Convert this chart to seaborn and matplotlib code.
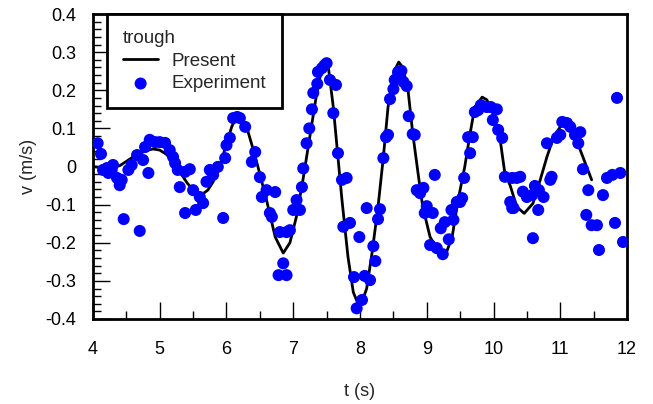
"""
Trough velocity: present model vs experiment
"""
import numpy as np
import pandas as pd
import seaborn as sns
import matplotlib.pyplot as plt
from matplotlib.ticker import MultipleLocator

# present (model) curve
present_t = [4.0, 4.2, 4.4, 4.6, 4.8, 4.9, 5.0, 5.1, 5.2, 5.3, 5.41, 5.5, 5.62,
             5.72, 5.8, 5.9, 6.0, 6.08, 6.15, 6.22, 6.3, 6.4, 6.47, 6.6, 6.73,
             6.85, 6.95, 7.05, 7.15, 7.25, 7.35, 7.42, 7.48, 7.53, 7.6, 7.66,
             7.73, 7.82, 7.9, 7.97, 8.04, 8.1, 8.18, 8.27, 8.35, 8.42, 8.52,
             8.58, 8.64, 8.72, 8.79, 8.87, 8.94, 9.05, 9.17, 9.27, 9.38, 9.47,
             9.57, 9.65, 9.72, 9.83, 9.9, 9.98, 10.1, 10.17, 10.25, 10.35,
             10.46, 10.59, 10.7, 10.8, 10.9, 11.04, 11.1, 11.18, 11.3, 11.47]
present_v = [0.0, -0.004, 0.002, 0.025, 0.042, 0.046, 0.043, 0.032, 0.012,
             -0.014, -0.043, -0.062, -0.075, -0.062, -0.04, 0.0, 0.06, 0.105,
             0.13, 0.13, 0.105, 0.045, 0.0, -0.088, -0.185, -0.227, -0.2,
             -0.13, -0.03, 0.08, 0.19, 0.25, 0.272, 0.255, 0.156, 0.043,
             -0.088, -0.237, -0.33, -0.36, -0.35, -0.32, -0.227, -0.106, 0.025,
             0.156, 0.253, 0.274, 0.26, 0.2, 0.087, -0.018, -0.106, -0.185,
             -0.22, -0.237, -0.185, -0.088, 0.0, 0.087, 0.156, 0.182, 0.175,
             0.145, 0.07, -0.018, -0.05, -0.106, -0.123, -0.097, -0.035, 0.025,
             0.077, 0.115, 0.115, 0.104, 0.043, -0.035]

# experiment points
exp_t = [4.07, 4.12, 4.15, 4.21, 4.23, 4.28, 4.3, 4.36, 4.4, 4.43, 4.46, 4.53,
         4.58, 4.66, 4.7, 4.75, 4.78, 4.83, 4.85, 4.93, 5.0, 5.08, 5.15, 5.2,
         5.23, 5.27, 5.3, 5.38, 5.45, 5.38, 5.5, 5.54, 5.6, 5.65, 5.7, 5.75,
         5.8, 5.87, 5.95, 5.98, 6.0, 6.05, 6.1, 6.16, 6.2, 6.28, 6.38, 6.43,
         6.5, 6.53, 6.6, 6.73, 6.65, 6.68, 6.8, 6.9, 6.85, 6.78, 6.9, 6.95,
         7.0, 7.05, 7.1, 7.13, 7.15, 7.2, 7.24, 7.28, 7.3, 7.36, 7.37, 7.43,
         7.47, 7.5, 7.55, 7.64, 7.6, 7.67, 7.73, 7.8, 7.75, 7.85, 7.99, 8.1,
         7.91, 8.07, 8.15, 8.03, 7.95, 8.2, 8.23, 8.27, 8.3, 8.35, 8.39, 8.42,
         8.45, 8.5, 8.52, 8.57, 8.62, 8.65, 8.7, 8.73, 8.79, 8.82, 9.12, 8.85,
         8.9, 8.95, 9.0, 8.97, 9.09, 9.05, 9.15, 9.24, 9.21, 9.27, 9.33, 9.37,
         9.4, 9.45, 9.5, 9.53, 9.56, 9.65, 9.62, 9.69, 9.72, 9.77, 9.81, 9.9,
         9.96, 10.05, 9.99, 10.07, 10.13, 10.17, 10.28, 10.25, 10.28, 10.35,
         10.4, 10.3, 10.44, 10.5, 10.58, 10.62, 10.68, 10.75, 10.67, 10.59,
         10.85, 10.87, 10.8, 10.95, 11.0, 11.03, 11.1, 11.15, 11.22, 11.3,
         11.27, 11.34, 11.42, 11.39, 11.47, 11.55, 11.58, 11.64, 11.7, 11.78,
         11.9, 11.82, 11.85, 11.94]
exp_v = [0.061, 0.033, -0.009, -0.004, -0.017, -0.009, 0.004, -0.03, -0.049,
         -0.035, -0.138, -0.009, 0.004, 0.03, -0.169, 0.017, 0.051, -0.017,
         0.07, 0.064, 0.064, 0.062, 0.043, 0.025, 0.009, -0.009, -0.054,
         -0.014, -0.007, -0.122, -0.062, -0.114, -0.08, -0.096, -0.04, -0.009,
         -0.022, -0.001, -0.135, 0.022, 0.056, 0.075, 0.127, 0.13, 0.127, 0.104,
         0.012, 0.038, -0.028, -0.08, -0.062, -0.067, -0.122, -0.132, -0.172,
         -0.172, -0.254, -0.285, -0.285, -0.167, -0.114, -0.088, -0.114, -0.054,
         -0.005, 0.061, 0.1, 0.15, 0.193, 0.217, 0.248, 0.258, 0.266, 0.271,
         0.227, 0.214, 0.14, 0.035, -0.035, -0.03, -0.158, -0.148, -0.185,
         -0.109, -0.29, -0.287, -0.298, -0.35, -0.372, -0.209, -0.248, -0.138,
         -0.112, 0.022, 0.077, 0.083, 0.177, 0.203, 0.227, 0.248, 0.251, 0.222,
         0.211, 0.132, 0.085, 0.083, -0.022, -0.062, -0.07, -0.056, -0.104,
         -0.122, -0.122, -0.206, -0.214, -0.23, -0.162, -0.146, -0.191, -0.114,
         -0.14, -0.093, -0.093, -0.083, -0.03, 0.035, 0.077, 0.077, 0.143,
         0.148, 0.161, 0.156, 0.156, 0.15, 0.122, 0.096, 0.075, -0.027, -0.03,
         -0.093, -0.109, -0.03, -0.027, -0.109, -0.066, -0.08, -0.075, -0.051,
         -0.062, -0.08, -0.114, -0.188, -0.035, -0.027, 0.061, 0.075, 0.083,
         0.117, 0.114, 0.104, 0.083, 0.09, 0.061, -0.007, -0.062, -0.127,
         -0.154, -0.154, -0.219, -0.075, -0.03, -0.022, -0.017, -0.148, 0.18,
         -0.198]

sns.set_style("white")
plt.rcParams['font.family'] = ['Liberation Sans', 'DejaVu Sans']

fig = plt.figure(figsize=(6.53, 4.04), dpi=100)
ax = fig.add_axes([0.1424, 0.2104, 0.8178, 0.7549])

present_df = pd.DataFrame({'t': present_t, 'v': present_v})
exp_df = pd.DataFrame({'t': exp_t, 'v': exp_v})

sns.lineplot(data=present_df, x='t', y='v', color='black', linewidth=2,
             sort=False, estimator=None, label='Present', ax=ax, zorder=2)
sns.scatterplot(data=exp_df, x='t', y='v', color='#0000ff', s=75,
                edgecolor='none', label='Experiment', ax=ax, zorder=3)

ax.set_xlim(4, 12)
ax.set_ylim(-0.4, 0.4)
ax.xaxis.set_major_locator(MultipleLocator(1))
ax.xaxis.set_minor_locator(MultipleLocator(0.5))
ax.yaxis.set_major_locator(MultipleLocator(0.1))
ax.yaxis.set_minor_locator(MultipleLocator(0.02))
ax.set_yticklabels([f'{y:g}' for y in np.round(ax.get_yticks(), 1)])
ax.tick_params(which='major', direction='in', length=12, width=1,
               labelsize=13, color='black', labelcolor='black')
ax.tick_params(which='minor', direction='in', length=6, width=1, color='black')
ax.tick_params(axis='x', which='both', bottom=True, top=False, pad=16)
ax.tick_params(axis='y', which='both', left=True, right=False, pad=12)

for spine in ax.spines.values():
    spine.set_linewidth(2)
    spine.set_color('black')

ax.set_xlabel('t (s)', fontsize=13, labelpad=18)
ax.set_ylabel('v (m/s)', fontsize=13, labelpad=6)

leg = ax.legend(title='trough', loc='upper left', bbox_to_anchor=(0.026, 1.0),
                borderaxespad=0, fontsize=13.5, title_fontsize=13.5, frameon=True,
                fancybox=False, edgecolor='black', alignment='left',
                handlelength=1.9, handletextpad=0.7, borderpad=0.85,
                labelspacing=0.3, markerscale=1.0)
leg.get_frame().set_linewidth(2)
leg.get_frame().set_alpha(1)

fig.savefig('out.png', dpi=100)
